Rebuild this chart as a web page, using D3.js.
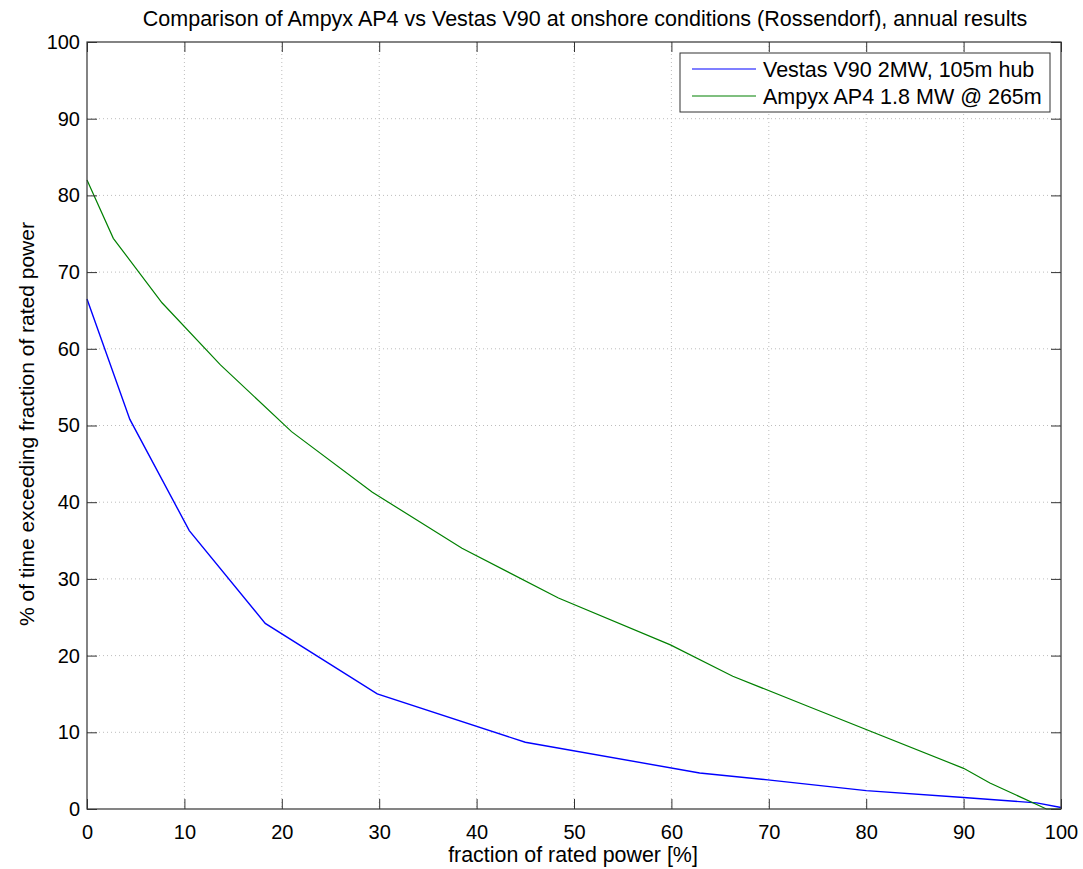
<!DOCTYPE html>
<html>
<head>
<meta charset="utf-8">
<script src="https://d3js.org/d3.v7.min.js"></script>
<style>
  body { margin: 0; background: #fff; }
  text { font-family: "Liberation Sans", Arial, sans-serif; fill: #000; }
</style>
</head>
<body>
<svg id="chart" width="1083" height="869"></svg>
<script>
// data
const vestasX = [0, 4.4, 10.5, 18.3, 29.8, 45, 62.9, 69.9, 80, 90, 97.5, 100];
const vestasY = [66.5, 50.8, 36.3, 24.2, 15.0, 8.7, 4.7, 3.8, 2.4, 1.5, 0.8, 0.2];
const ampyxX = [0, 2.7, 7.7, 13.7, 21.0, 29.3, 38.5, 48.4, 59.9, 66.3, 74.2, 90.0, 92.7, 98.5, 100];
const ampyxY = [82.0, 74.4, 66.0, 57.9, 49.2, 41.3, 34.0, 27.5, 21.4, 17.3, 13.3, 5.3, 3.4, 0, 0];
const seriesNames = ["Vestas V90 2MW, 105m hub", "Ampyx AP4 1.8 MW @ 265m"];
const seriesColors = ["#0000ff", "#008000"];
const xTicks = d3.range(0, 101, 10);
const yTicks = d3.range(0, 101, 10);

const svg = d3.select("svg#chart");
const pLeft = 87, pRight = 1061, pTop = 42, pBottom = 809;

const x = d3.scaleLinear().domain([0, 100]).range([pLeft, pRight]);
const y = d3.scaleLinear().domain([0, 100]).range([pBottom, pTop]);

// grid
const grid = svg.append("g");
grid.selectAll("line.vg").data(xTicks.slice(1, -1)).join("line")
    .attr("x1", d => x(d)).attr("x2", d => x(d))
    .attr("y1", pTop).attr("y2", pBottom)
    .attr("stroke", "#bdbdbd").attr("stroke-dasharray", "1,3");
grid.selectAll("line.hg").data(yTicks.slice(1, -1)).join("line")
    .attr("x1", pLeft).attr("x2", pRight)
    .attr("y1", d => y(d)).attr("y2", d => y(d))
    .attr("stroke", "#bdbdbd").attr("stroke-dasharray", "1,3");

// series
const series = [
  vestasX.map((d, i) => [d, vestasY[i]]),
  ampyxX.map((d, i) => [d, ampyxY[i]])
];
const line = d3.line().x(d => x(d[0])).y(d => y(d[1]));
svg.selectAll("path.series").data(series).join("path")
    .attr("class", "series")
    .attr("d", line)
    .attr("fill", "none")
    .attr("stroke", (d, i) => seriesColors[i])
    .attr("stroke-width", (d, i) => i === 0 ? 1.4 : 1.2);

// axes (ticks inside, box style)
function styleAxis(g) {
  g.select(".domain").remove();
  g.selectAll(".tick line").attr("stroke", "#333");
  g.selectAll(".tick text").attr("font-size", 20).attr("fill", "#000")
      .attr("font-family", "Liberation Sans, Arial, sans-serif");
}
svg.append("g").attr("transform", `translate(0,${pBottom})`)
    .call(d3.axisBottom(x).tickValues(xTicks).tickSizeInner(-10).tickSizeOuter(0).tickPadding(16))
    .call(styleAxis);
svg.append("g").attr("transform", `translate(0,${pTop})`)
    .call(d3.axisTop(x).tickValues(xTicks).tickSizeInner(-10).tickSizeOuter(0).tickFormat(""))
    .call(styleAxis);
svg.append("g").attr("transform", `translate(${pLeft},0)`)
    .call(d3.axisLeft(y).tickValues(yTicks).tickSizeInner(-10).tickSizeOuter(0).tickPadding(7))
    .call(styleAxis);
svg.append("g").attr("transform", `translate(${pRight},0)`)
    .call(d3.axisRight(y).tickValues(yTicks).tickSizeInner(-10).tickSizeOuter(0).tickFormat(""))
    .call(styleAxis);

svg.append("rect")
    .attr("x", pLeft).attr("y", pTop)
    .attr("width", pRight - pLeft).attr("height", pBottom - pTop)
    .attr("fill", "none").attr("stroke", "#333").attr("stroke-width", 1.2);

// title and labels
svg.append("text").attr("x", 585).attr("y", 26)
    .attr("text-anchor", "middle").attr("font-size", 21.5)
    .text("Comparison of Ampyx AP4 vs Vestas V90 at onshore conditions (Rossendorf), annual results");
svg.append("text").attr("x", 573).attr("y", 862)
    .attr("text-anchor", "middle").attr("font-size", 21.4)
    .text("fraction of rated power [%]");
svg.append("text").attr("transform", `translate(34,424) rotate(-90)`)
    .attr("text-anchor", "middle").attr("font-size", 21)
    .text("% of time exceeding fraction of rated power");

// legend
const lg = svg.append("g").attr("transform", "translate(680,53)");
lg.append("rect").attr("width", 370).attr("height", 59)
    .attr("fill", "#fff").attr("stroke", "#333");
seriesNames.forEach((name, i) => {
  const yy = 16 + i * 27;
  lg.append("line").attr("x1", 12).attr("x2", 76).attr("y1", yy).attr("y2", yy)
      .attr("stroke", seriesColors[i]).attr("stroke-width", 1.2);
  lg.append("text").attr("x", 83).attr("y", yy + 8).attr("font-size", 21.5).text(name);
});
</script>
</body>
</html>
